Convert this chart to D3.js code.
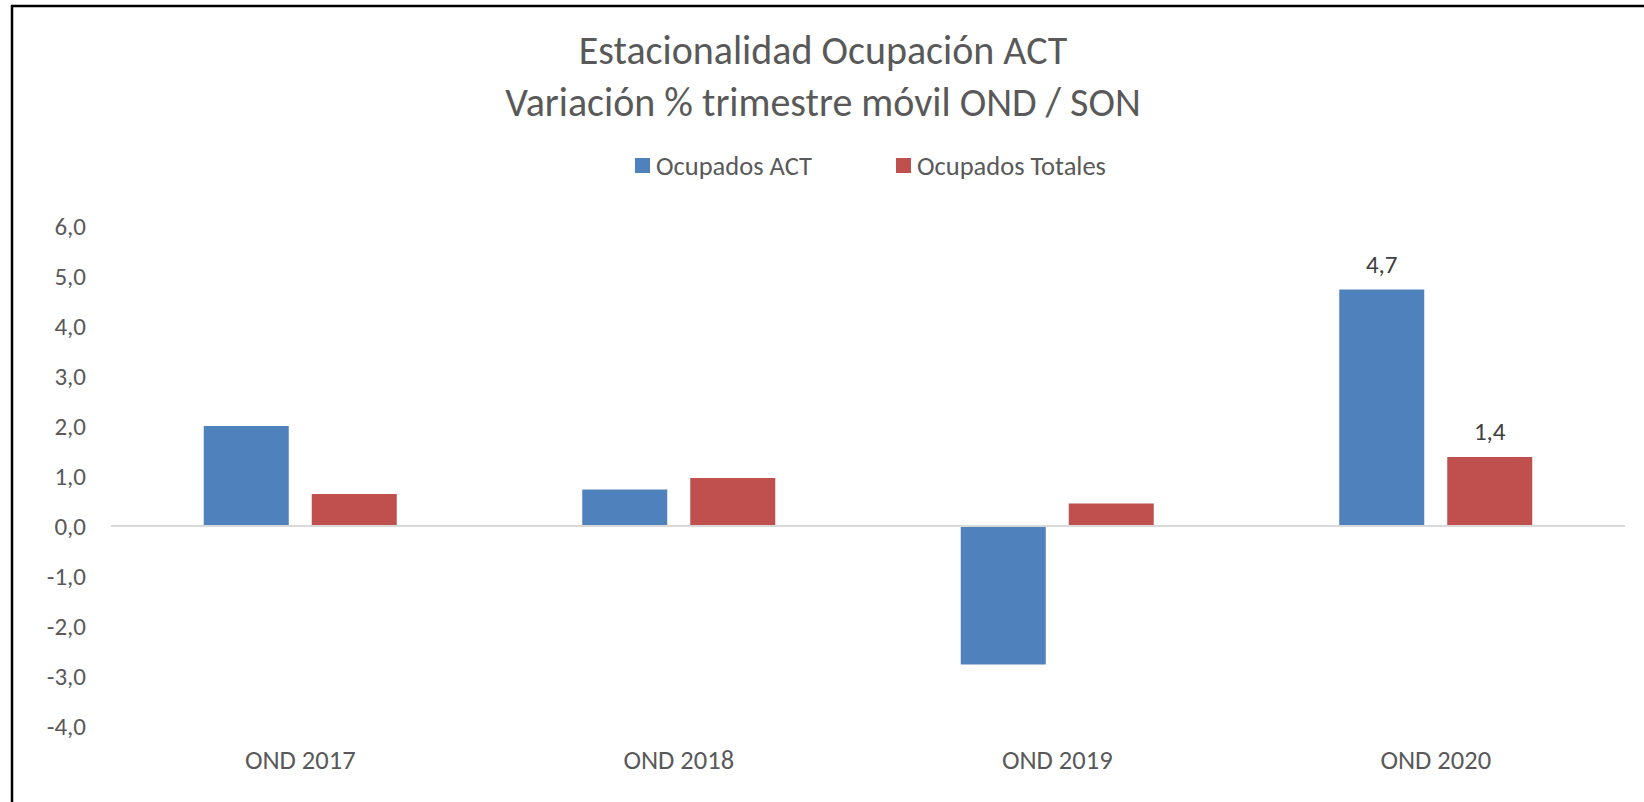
<!DOCTYPE html>
<html>
<head>
<meta charset="utf-8">
<script src="https://cdn.jsdelivr.net/npm/d3@7"></script>
<style>
  body { margin: 0; background: #fff; }
  text { font-family: Carlito, Calibri, Lato, sans-serif; fill: #595959; }
</style>
</head>
<body>
<div id="chart"></div>
<script>
// chart data
var categories = ["OND 2017", "OND 2018", "OND 2019", "OND 2020"];
var seriesNames = ["Ocupados ACT", "Ocupados Totales"];
var actValues = [2.0, 0.73, -2.77, 4.73];
var totalValues = [0.64, 0.96, 0.45, 1.38];
var labelledCategories = ["OND 2020"];
var yTicks = [-4, -3, -2, -1, 0, 1, 2, 3, 4, 5, 6];
var colors = ["#4F81BD", "#C0504D"];

var width = 1644, height = 802;

var svg = d3.select("#chart").append("svg")
    .attr("width", width)
    .attr("height", height);

// frame (only top and left edges are in view)
svg.append("line")
    .attr("x1", 11).attr("x2", width)
    .attr("y1", 6).attr("y2", 6)
    .style("stroke", "#000")
    .style("stroke-width", "2.5px");
svg.append("line")
    .attr("x1", 12).attr("x2", 12)
    .attr("y1", 5).attr("y2", height)
    .style("stroke", "#000")
    .style("stroke-width", "2.5px");

// title
svg.append("text")
    .attr("x", 823).attr("y", 64)
    .attr("text-anchor", "middle")
    .style("font-size", "40px")
    .text("Estacionalidad Ocupación ACT");
svg.append("text")
    .attr("x", 823).attr("y", 116)
    .attr("text-anchor", "middle")
    .style("font-size", "40px")
    .text("Variación % trimestre móvil OND / SON");

// legend
var legendX = [635, 896];
seriesNames.forEach(function(name, i) {
    svg.append("rect")
        .attr("x", legendX[i])
        .attr("y", 158)
        .attr("width", 15)
        .attr("height", 15)
        .style("fill", colors[i]);
    svg.append("text")
        .attr("x", legendX[i] + 21)
        .attr("y", 175)
        .style("font-size", "26.5px")
        .text(name);
});

// scales
var y = d3.scaleLinear().domain([-4, 6]).range([726, 226]);
var x = d3.scaleBand().domain(categories).range([111, 1625]).padding(0);
var groupW = 193;
var xSub = d3.scaleBand().domain(seriesNames)
    .range([(x.bandwidth() - groupW) / 2, (x.bandwidth() + groupW) / 2])
    .paddingInner(0.213).paddingOuter(0);

var locale = d3.formatLocale({decimal: ",", thousands: ".", grouping: [3], currency: ["", ""], minus: "-"});
var fmt = locale.format(".1f");

// y axis labels (no axis line, no gridlines)
var yAxis = d3.axisLeft(y).tickValues(yTicks).tickFormat(fmt).tickSize(0).tickPadding(0);
var gy = svg.append("g")
    .attr("transform", "translate(86,0)")
    .call(yAxis);
gy.select(".domain").remove();
gy.selectAll("text")
    .style("font-size", "25px")
    .style("fill", "#595959")
    .style("font-family", "Carlito, Calibri, Lato, sans-serif");

// bars
var rows = categories.map(function(c, i) {
    return {cat: c, values: [actValues[i], totalValues[i]]};
});

var groups = svg.selectAll(".grp")
    .data(rows)
    .enter().append("g")
    .attr("class", "grp")
    .attr("transform", function(d) { return "translate(" + x(d.cat) + ",0)"; });

groups.selectAll("rect")
    .data(function(d) {
        return d.values.map(function(v, i) { return {cat: d.cat, name: seriesNames[i], value: v, idx: i}; });
    })
    .enter().append("rect")
    .attr("x", function(d) { return xSub(d.name); })
    .attr("width", xSub.bandwidth())
    .attr("y", function(d) { return y(Math.max(0, d.value)); })
    .attr("height", function(d) { return Math.abs(y(d.value) - y(0)); })
    .style("fill", function(d) { return colors[d.idx]; });

// data labels
groups.filter(function(d) { return labelledCategories.indexOf(d.cat) >= 0; })
    .selectAll(".lbl")
    .data(function(d) {
        return d.values.map(function(v, i) { return {name: seriesNames[i], value: v}; });
    })
    .enter().append("text")
    .attr("class", "lbl")
    .attr("x", function(d) { return xSub(d.name) + xSub.bandwidth() / 2; })
    .attr("y", function(d) { return y(d.value) - 17; })
    .attr("text-anchor", "middle")
    .style("font-size", "25px")
    .style("fill", "#404040")
    .text(function(d) { return fmt(d.value); });

// zero line
svg.append("line")
    .attr("x1", x.range()[0]).attr("x2", x.range()[1])
    .attr("y1", y(0)).attr("y2", y(0))
    .style("stroke", "#D9D9D9")
    .style("stroke-width", "2px");

// category labels
var xAxis = d3.axisBottom(x).tickSize(0).tickPadding(0);
var gx = svg.append("g")
    .attr("transform", "translate(0,750)")
    .call(xAxis);
gx.select(".domain").remove();
gx.selectAll("text")
    .style("font-size", "26.5px")
    .style("fill", "#595959")
    .style("font-family", "Carlito, Calibri, Lato, sans-serif");
</script>
</body>
</html>
